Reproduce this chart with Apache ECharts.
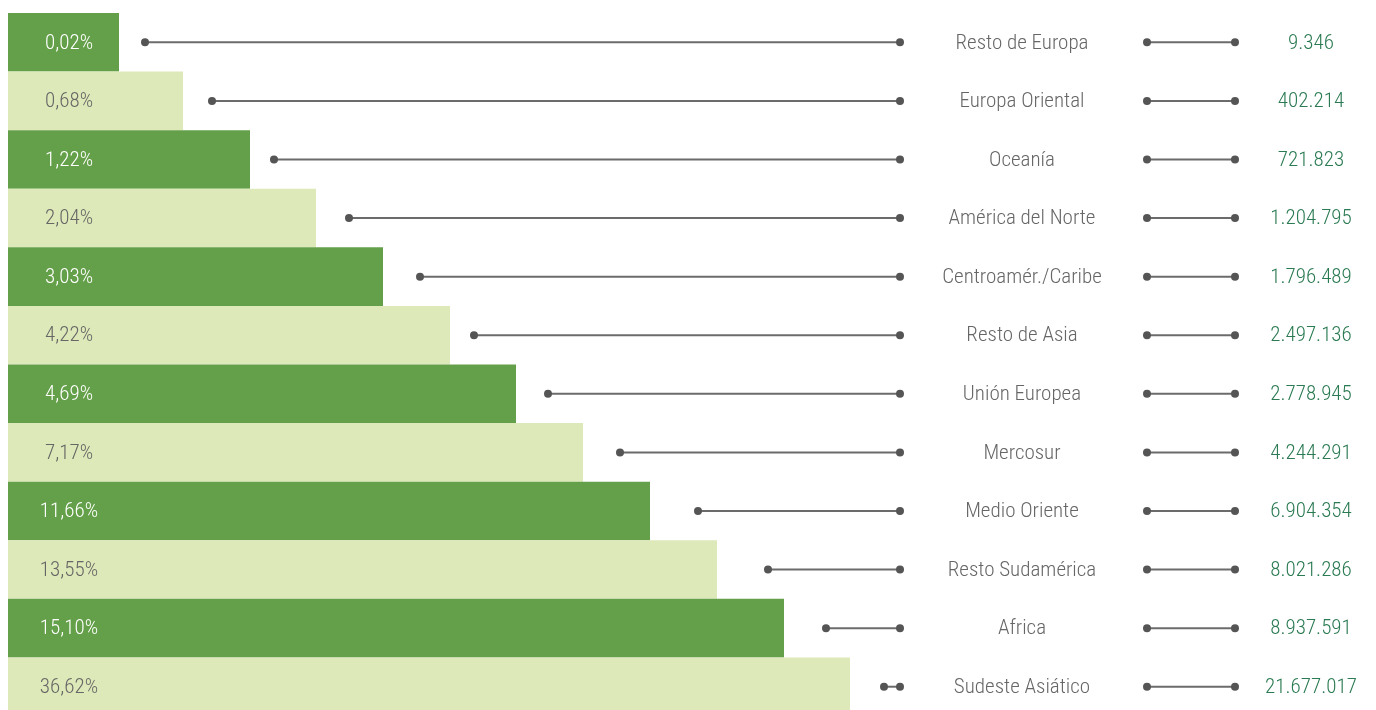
<!DOCTYPE html>
<html><head><meta charset="utf-8">
<script src="https://cdn.jsdelivr.net/npm/echarts@6/dist/echarts.min.js"></script>
<style>html,body{margin:0;padding:0;background:#fff}#c{width:1376px;height:710px}</style>
</head><body><div id="c"></div>
<script>
const regions = ['Resto de Europa','Europa Oriental','Oceanía','América del Norte','Centroamér./Caribe','Resto de Asia','Unión Europea','Mercosur','Medio Oriente','Resto Sudamérica','Africa','Sudeste Asiático'];
const shares = [0.02,0.68,1.22,2.04,3.03,4.22,4.69,7.17,11.66,13.55,15.10,36.62];
const amounts = [9346,402214,721823,1204795,1796489,2497136,2778945,4244291,6904354,8021286,8937591,21677017];
// decorative step lengths of the bars (px units of the x scale)
const barLength = [111,175,242,308,375,442,508,575,642,709,776,842];
// left connector start and end, right connector start and end (x scale units)
const leftStart = [137,204,266,341,412,466,540,612,690,760,818,876];
const leftEnd = 892;
const rightStart = 1139, rightEnd = 1227;
const shareLabelX = 61, regionLabelX = 1014, amountLabelX = 1303;

const FONT = "'Roboto Condensed','Liberation Sans Narrow',sans-serif";
const DARK = '#64a049', LIGHT = '#dde9b8';
function fmtShare(v){return v.toFixed(2).replace('.',',')+'%';}
function fmtAmt(v){return String(v).replace(/\B(?=(\d{3})+(?!\d))/g,'.');}

const chart = echarts.init(document.getElementById('c'));
const idx = regions.map((_,i)=>i);
chart.setOption({
  animation:false,
  grid:{left:8,top:13,width:1368,height:703,outerBoundsMode:'none',containLabel:false},
  xAxis:{type:'value',min:0,max:1368,show:false},
  yAxis:{type:'category',data:regions,inverse:true,show:false},
  series:[
    {type:'bar',barWidth:'100%',barCategoryGap:0,z:1,
     data:barLength.map((v,i)=>({value:v,itemStyle:{color:i%2===0?DARK:LIGHT}}))},
    {type:'custom',data:idx,z:10,clip:false,renderItem:function(params,api){
      const i = api.value(0);
      const p0 = api.coord([leftStart[i], i]);
      const p1 = api.coord([leftEnd, i]);
      const q0 = api.coord([rightStart, i]);
      const q1 = api.coord([rightEnd, i]);
      const y = p0[1];
      const ls = {stroke:'#6b6b6b',lineWidth:2};
      const dot = {fill:'#555'};
      const pl = api.coord([shareLabelX,i]);
      const rl = api.coord([regionLabelX,i]);
      const al = api.coord([amountLabelX,i]);
      return {type:'group',children:[
        {type:'line',shape:{x1:p0[0],y1:y,x2:p1[0],y2:y},style:ls},
        {type:'circle',shape:{cx:p0[0],cy:y,r:4},style:dot},
        {type:'circle',shape:{cx:p1[0],cy:y,r:4},style:dot},
        {type:'line',shape:{x1:q0[0],y1:y,x2:q1[0],y2:y},style:ls},
        {type:'circle',shape:{cx:q0[0],cy:y,r:4},style:dot},
        {type:'circle',shape:{cx:q1[0],cy:y,r:4},style:dot},
        {type:'text',x:pl[0],y:y+1,style:{text:fmtShare(shares[i]),fill:i%2===0?'#ffffff':'#666666',font:'300 21px '+FONT,align:'center',verticalAlign:'middle'}},
        {type:'text',x:rl[0],y:y+1,style:{text:regions[i],fill:'#666666',font:'300 21px '+FONT,align:'center',verticalAlign:'middle'}},
        {type:'text',x:al[0],y:y+1,style:{text:fmtAmt(amounts[i]),fill:'#2a7a52',font:'300 21px '+FONT,align:'center',verticalAlign:'middle'}}
      ]};
    }}
  ]
});
</script></body></html>
